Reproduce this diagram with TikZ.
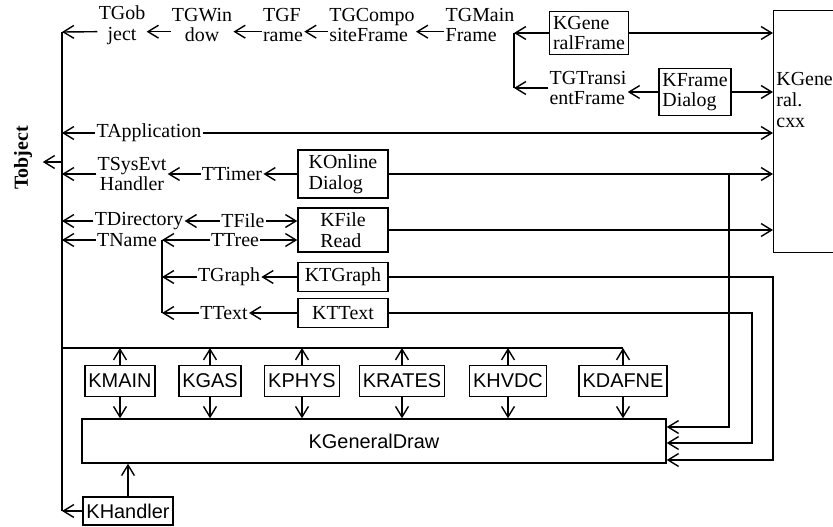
\documentclass[tikz,border=0pt]{standalone}
\usepackage{fontspec}
\setmainfont{Liberation Serif}
\setsansfont{Liberation Sans}
\usepackage{tikz}
\usetikzlibrary{arrows.meta}
\newcommand{\figfont}{\fontsize{17}{17.5}\selectfont}

\begin{document}
\begin{tikzpicture}[
  x=0.03cm, y=-0.03cm,
  lbl/.style={inner sep=1pt, align=center, font=\figfont},
  box/.style={draw, line width=1.2pt, inner xsep=3pt, inner ysep=4pt, align=left, font=\figfont},
  mbox/.style={box, minimum width=2.7cm, minimum height=0.87cm},
  kbox/.style={box, font=\figfont\sffamily, inner xsep=3pt, minimum height=0.93cm},
  line/.style={line width=1.2pt},
  arrow/.style={line, -{Straight Barb[length=9pt,width=11pt]}}
]
\useasboundingbox (0,0) rectangle (833,526);
\clip (0,0) rectangle (833,526);

% class names and boxes
\node[lbl, rotate=90, font=\figfont\bfseries] (tobject) at (23,158) {Tobject};
\node[lbl] (tgobject) at (122,25) {TGob\\ject};
\node[lbl] (tgwindow) at (202,25) {TGWin\\dow};
\node[lbl, align=left] (tgframe) at (283,25) {TGF\\rame};
\node[lbl, align=left] (tgcomp) at (372,25) {TGCompo\\siteFrame};
\node[lbl, align=left] (tgmain) at (480,25) {TGMain\\Frame};
\node[box] (kgenframe) at (589,33) {KGene\\ralFrame};
\node[lbl, align=left] (tgtrans) at (588,88) {TGTransi\\entFrame};
\node[box] (kframedlg) at (695,92) {KFrame\\Dialog};
\node[draw, line, minimum width=3cm, minimum height=7.26cm, anchor=north west] (kcxx) at (773,10) {};
\node[lbl, align=left, anchor=west] (kcxxtext) at (775,100) {KGene\\ral.\\cxx};

\node[lbl] (tapp) at (149,133) {TApplication};
\node[lbl] (tsys) at (132,174) {TSysEvt\\Handler};
\node[lbl] (ttimer) at (232,174) {TTimer};
\node[mbox] (konline) at (343,174) {KOnline\\Dialog};
\node[lbl] (tdir) at (139,221) {TDirectory};
\node[lbl] (tfile) at (243,221) {TFile};
\node[mbox] (kfileread) at (343,230) {KFile\\Read};
\node[lbl] (tname) at (127,240) {TName};
\node[lbl] (ttree) at (235,240) {TTree};
\node[lbl] (tgraph) at (229,277) {TGraph};
\node[mbox] (ktgraph) at (343,277) {KTGraph};
\node[lbl] (ttext) at (224,313) {TText};
\node[mbox] (kttext) at (343,313) {KTText};

\node[kbox] (kmain) at (120,381) {KMAIN};
\node[kbox] (kgas) at (210,381) {KGAS};
\node[kbox] (kphys) at (302,381) {KPHYS};
\node[kbox] (krates) at (402,381) {KRATES};
\node[kbox] (khvdc) at (508,381) {KHVDC};
\node[kbox] (kdafne) at (623,381) {KDAFNE};
\node[kbox, minimum width=17.52cm, minimum height=1.32cm] (kgdraw) at (374,441) {KGeneralDraw};
\node[kbox, minimum height=0.84cm] (khandler) at (128,511) {KHandler};

% junction points
\coordinate (btop) at (62,32);
\coordinate (bobj) at (62,162);
\coordinate (mj) at (514,33);
\coordinate (tnj) at (162,240);
\coordinate (kbus) at (62,348);
\coordinate (ro) at (729,427);
\coordinate (rt) at (752,443);
\coordinate (rg) at (773,460);

% TObject line
\draw[line] (btop) -- (btop |- khandler.west);
\draw[arrow, shorten >=0.28cm] (bobj) -- (tobject.south |- bobj);

% frame classes
\draw[arrow] ([yshift=-0.2cm]tgobject.west) -- (btop);
\draw[arrow] ([yshift=-0.2cm]tgwindow.west) -- ([yshift=-0.2cm]tgobject.east);
\draw[arrow] ([yshift=-0.2cm]tgframe.west) -- ([yshift=-0.2cm]tgwindow.east);
\draw[arrow] ([yshift=-0.2cm]tgcomp.west) -- ([yshift=-0.2cm]tgframe.east);
\draw[arrow] ([yshift=-0.2cm]tgmain.west) -- ([yshift=-0.2cm]tgcomp.east);
\draw[arrow] (kgenframe.west) -- (mj);
\draw[line] (mj) -- (mj |- tgtrans.west);
\draw[arrow] (tgtrans.west) -- (tgtrans.west -| mj);
\draw[arrow] (kframedlg.west) -- (kframedlg.west -| tgtrans.east);
\draw[arrow] (kframedlg.east) -- (kframedlg.east -| kcxx.west);
\draw[arrow] (kgenframe.east) -- (kgenframe.east -| kcxx.west);

% system classes
\draw[arrow] (tapp.west) -- (tapp.west -| btop);
\draw[arrow] (tapp.east) -- (tapp.east -| kcxx.west);
\draw[arrow] (tsys.west) -- (tsys.west -| btop);
\draw[arrow] (ttimer.west) -- (tsys.east);
\draw[arrow] (konline.west) -- (ttimer.east);
\draw[arrow] (konline.east) -- (konline.east -| kcxx.west);
\draw[arrow] (tdir.west) -- (tdir.west -| btop);
\draw[arrow] (tfile.west) -- (tdir.east);
\draw[arrow] (tfile.east) -- (tfile.east -| kfileread.west);
\draw[arrow] (kfileread.east) -- (kfileread.east -| kcxx.west);
\draw[arrow] (tname.west) -- (tname.west -| btop);
\draw[arrow] (ttree.west) -- (tnj);
\draw[arrow] (ttree.east) -- (ttree.east -| kfileread.west);
\draw[line] (tnj) -- (tnj |- ttext.west);
\draw[arrow] (tgraph.west) -- (tgraph.west -| tnj);
\draw[arrow] (ktgraph.west) -- (tgraph.east);
\draw[arrow] (ttext.west) -- (ttext.west -| tnj);
\draw[arrow] (kttext.west) -- (ttext.east);

% into KGeneralDraw
\draw[arrow] (konline.east -| ro) -- (ro) -- (ro -| kgdraw.east);
\draw[arrow] (kttext.east) -| (rt) -- (rt -| kgdraw.east);
\draw[arrow] (ktgraph.east) -| (rg) -- (rg -| kgdraw.east);

% modules
\draw[line] (kbus) -- (kbus -| kdafne.north);
\draw[arrow] (kmain.north) -- (kmain.north |- kbus);
\draw[arrow] (kmain.south) -- (kmain.south |- kgdraw.north);
\draw[arrow] (kgas.north) -- (kgas.north |- kbus);
\draw[arrow] (kgas.south) -- (kgas.south |- kgdraw.north);
\draw[arrow] (kphys.north) -- (kphys.north |- kbus);
\draw[arrow] (kphys.south) -- (kphys.south |- kgdraw.north);
\draw[arrow] (krates.north) -- (krates.north |- kbus);
\draw[arrow] (krates.south) -- (krates.south |- kgdraw.north);
\draw[arrow] (khvdc.north) -- (khvdc.north |- kbus);
\draw[arrow] (khvdc.south) -- (khvdc.south |- kgdraw.north);
\draw[arrow] (kdafne.north) -- (kdafne.north |- kbus);
\draw[arrow] (kdafne.south) -- (kdafne.south |- kgdraw.north);
\draw[arrow] (khandler.north) -- (khandler.north |- kgdraw.south);
\draw[arrow] (khandler.west) -- (khandler.west -| kbus);
\end{tikzpicture}
\end{document}
